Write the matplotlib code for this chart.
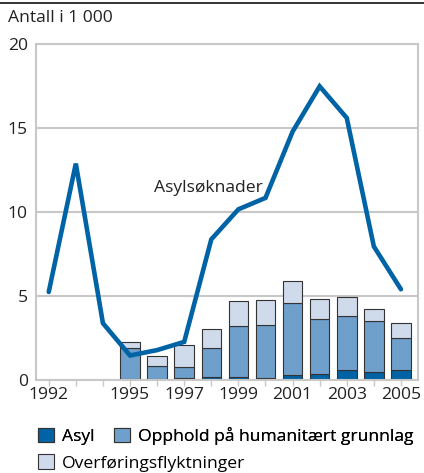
import matplotlib
matplotlib.use("Agg")
import matplotlib.pyplot as plt
from matplotlib.patches import Patch
from matplotlib.lines import Line2D

plt.rcParams['font.family'] = ['Open Sans', 'DejaVu Sans']

years_line = list(range(1992, 2006))
asylsoknader = [5.24, 12.88, 3.38, 1.46, 1.78, 2.27, 8.37, 10.16, 10.84, 14.78, 17.48, 15.6, 7.95, 5.40]

years_bar = list(range(1995, 2006))
asyl = [0.05, 0.03, 0.12, 0.15, 0.20, 0.12, 0.30, 0.34, 0.61, 0.48, 0.60]
humanitaert = [1.87, 0.82, 0.67, 1.75, 2.99, 3.17, 4.30, 3.29, 3.18, 3.01, 1.88]
overforing = [0.34, 0.60, 1.27, 1.14, 1.49, 1.49, 1.27, 1.21, 1.15, 0.74, 0.89]

xtick_labels = ['1992', '1995', '1997', '1999', '2001', '2003', '2005']
xtick_pos = [1992, 1995, 1997, 1999, 2001, 2003, 2005]

c_asyl = '#0063a6'
c_hum = '#6f9fcb'
c_over = '#cfdaeb'
c_line = '#0063a6'
grid_c = '#c8c8c8'
txt_c = '#222222'
fs = 12.6

fig = plt.figure(figsize=(4.24, 4.73), dpi=100)
ax = fig.add_axes([36/424, 1 - 380/473, (418-36)/424, (380-44)/473])

ax.set_xlim(1991.53, 2005.63)
ax.set_ylim(0, 20)

edge = '#333333'
w = 0.72
ax.bar(years_bar, asyl, width=w, color=c_asyl, edgecolor=edge, linewidth=0.8, zorder=2)
b2 = [a for a in asyl]
ax.bar(years_bar, humanitaert, width=w, bottom=b2, color=c_hum, edgecolor=edge, linewidth=0.8, zorder=2)
b3 = [a + h for a, h in zip(asyl, humanitaert)]
ax.bar(years_bar, overforing, width=w, bottom=b3, color=c_over, edgecolor=edge, linewidth=0.8, zorder=2)

ax.plot(years_line, asylsoknader, color=c_line, linewidth=3.3, solid_capstyle='round', solid_joinstyle='miter', zorder=3)

ax.text(1997.88, 11.45, 'Asylsøknader', fontsize=fs, color=txt_c, ha='center', va='center', zorder=4)

ax.set_yticks([0, 5, 10, 15, 20])
ax.yaxis.grid(True, color=grid_c, linewidth=1.5, zorder=0)
ax.set_axisbelow(True)
ax.set_xticks(years_line, minor=True)
ax.set_xticks(xtick_pos)
ax.set_xticklabels(xtick_labels)
ax.tick_params(axis='x', which='both', length=4, color=grid_c, labelsize=fs, labelcolor=txt_c, pad=1, direction='out', width=1)
ax.tick_params(axis='y', length=0, labelsize=fs, labelcolor=txt_c, pad=6)
for s in ax.spines.values():
    s.set_color(grid_c)
    s.set_linewidth(1.5)

fig.add_artist(Line2D([0, 1], [1 - 3/473, 1 - 3/473], color='#111111', linewidth=1.2))
fig.text(8/424, 1 - 18/473, 'Antall i 1 000', fontsize=fs, color=txt_c, ha='left', va='center')

handles1 = [Patch(facecolor=c_asyl, edgecolor=edge, linewidth=0.8),
            Patch(facecolor=c_hum, edgecolor=edge, linewidth=0.8)]
leg1 = fig.legend(handles1, ['Asyl', 'Opphold på humanitært grunnlag'], ncol=2,
                  loc='center left', bbox_to_anchor=(38/424, 1 - 436/473), frameon=False,
                  fontsize=fs, handlelength=0.9, handleheight=0.9, handletextpad=0.45, columnspacing=1.15,
                  borderpad=0, borderaxespad=0)
fig.add_artist(leg1)
handles2 = [Patch(facecolor=c_over, edgecolor=edge, linewidth=0.8)]
fig.legend(handles2, ['Overføringsflyktninger'], loc='center left', bbox_to_anchor=(38/424, 1 - 463/473),
           frameon=False, fontsize=fs, handlelength=0.9, handleheight=0.9, handletextpad=0.45,
           borderpad=0, borderaxespad=0)

fig.savefig('out.png', dpi=100)
